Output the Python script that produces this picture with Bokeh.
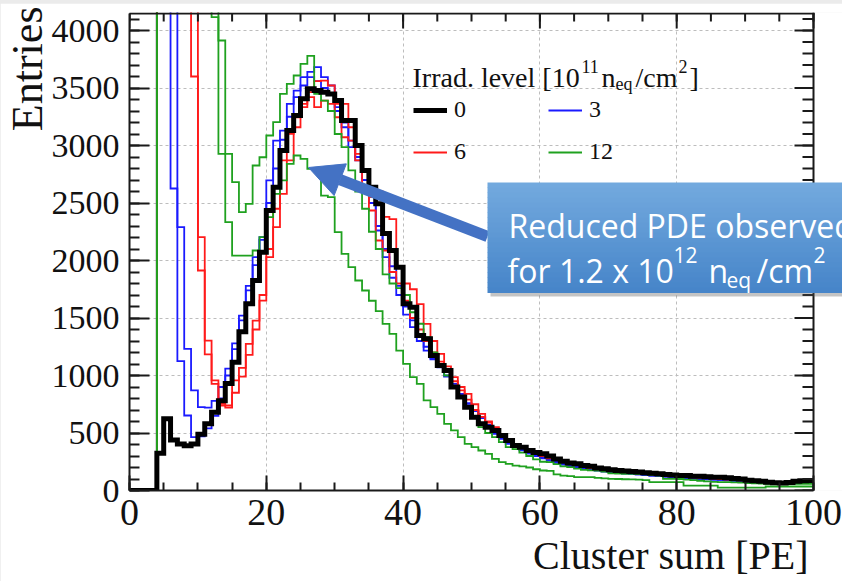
import math
from bokeh.plotting import figure
from bokeh.models import (ColumnDataSource, FixedTicker, Label, BoxAnnotation, Title,
                          Arrow, NormalHead, Legend, LegendItem, Range1d)
from bokeh.layouts import column
from bokeh.embed import file_html
from bokeh.resources import INLINE

# ---------------- data (bin contents, 1 PE bins from 0 to 100) ----------------
BIN_LO = 0
BIN_WIDTH = 1

black = [0, 0, 0, 0, 324, 625, 440, 405, 390, 405,
         490, 580, 680, 780, 930, 1115, 1380, 1625, 1826, 2072,
         2435, 2638, 2957, 3130, 3261, 3406, 3493, 3478, 3464, 3449,
         3391, 3217, 3217, 3000, 2783, 2638, 2493, 2235, 2087, 1942,
         1623, 1594, 1348, 1319, 1174, 1087, 1043, 899, 812, 725,
         638, 580, 551, 522, 478, 435, 391, 377, 348, 330,
         320, 300, 275, 255, 240, 232, 217, 210, 195, 190,
         180, 175, 170, 165, 160, 155, 150, 145, 140, 135,
         130, 130, 125, 125, 120, 116, 116, 110, 105, 100,
         90, 85, 80, 72, 68, 65, 70, 80, 85, 87]

blue_a = [0, 0, 0, 0, 4500, 4500, 4500, 1125, 652, 464,
          470, 540, 650, 800, 1000, 1230, 1480, 1740, 2029, 2203,
          2696, 3043, 3130, 3362, 3478, 3594, 3640, 3681, 3594, 3522,
          3333, 3159, 2986, 2870, 2783, 2580, 2261, 2029, 1850, 1700,
          1530, 1420, 1300, 1217, 1140, 1072, 1000, 928, 840, 754,
          690, 638, 560, 493, 450, 406, 380, 350, 320, 300,
          280, 260, 240, 225, 210, 200, 190, 180, 172, 165,
          160, 155, 150, 145, 140, 135, 130, 125, 120, 116,
          112, 110, 105, 100, 100, 95, 92, 90, 85, 80,
          78, 75, 72, 70, 65, 62, 60, 62, 65, 68]

blue_b = [0, 0, 0, 0, 4500, 4500, 2626, 2290, 1232, 870,
          725, 720, 780, 900, 1060, 1280, 1520, 1780, 1960, 2180,
          2500, 2800, 3050, 3250, 3420, 3522, 3594, 3560, 3500, 3440,
          3300, 3200, 3043, 2900, 2700, 2500, 2300, 2100, 1950, 1780,
          1600, 1480, 1350, 1250, 1150, 1080, 990, 900, 830, 760,
          690, 630, 570, 510, 460, 420, 390, 360, 335, 310,
          290, 270, 250, 235, 220, 210, 200, 190, 180, 170,
          165, 158, 150, 145, 140, 135, 130, 125, 120, 115,
          110, 108, 104, 100, 98, 95, 92, 88, 85, 82,
          80, 76, 72, 70, 66, 62, 62, 65, 68, 70]

red_a = [0, 0, 0, 0, 4500, 4500, 4500, 4500, 4500, 3600,
         1913, 1183, 928, 739, 720, 850, 990, 1180, 1400, 1700,
         2100, 2450, 2870, 3101, 3246, 3362, 3464, 3560, 3565, 3522,
         3362, 3362, 3159, 2928, 2638, 2551, 2600, 2380, 2360, 1950,
         1800, 1750, 1620, 1449, 1300, 1188, 1080, 986, 900, 840,
         750, 667, 600, 551, 490, 435, 400, 377, 355, 335,
         320, 300, 280, 262, 245, 230, 215, 205, 195, 185,
         178, 170, 165, 160, 155, 150, 145, 140, 135, 130,
         125, 122, 118, 115, 110, 106, 102, 98, 94, 90,
         86, 82, 78, 74, 70, 68, 66, 68, 70, 72]

red_b = [0, 0, 0, 0, 4500, 4500, 4500, 4500, 4500, 4500,
         2203, 1304, 957, 754, 739, 957, 1067, 1275, 1478, 1652,
         2029, 2290, 2580, 2870, 3159, 3333, 3420, 3333, 3391, 3362,
         3246, 3072, 3043, 2870, 2783, 2435, 2174, 2087, 1900, 1800,
         1650, 1500, 1400, 1300, 1200, 1120, 1050, 950, 870, 790,
         700, 640, 590, 540, 480, 440, 400, 380, 350, 330,
         300, 280, 265, 250, 235, 220, 205, 195, 185, 178,
         170, 165, 160, 155, 150, 145, 140, 135, 130, 126,
         122, 118, 115, 112, 108, 105, 100, 96, 92, 88,
         85, 80, 76, 72, 70, 68, 66, 66, 68, 70]

green_a = [0, 0, 0, 0, 4500, 4500, 4500, 4500, 4500, 4500,
           4500, 4500, 4116, 3913, 2928, 2681, 2420, 2493, 2826, 2898,
           3087, 3203, 3449, 3536, 3609, 3710, 3780, 3449, 3391, 3300,
           3100, 2986, 2783, 2600, 2450, 2250, 2100, 1880, 1800, 1760,
           1700, 1550, 1450, 1333, 1200, 1101, 1000, 899, 810, 725,
           640, 551, 500, 464, 420, 377, 360, 330, 300, 270,
           250, 246, 230, 210, 203, 190, 180, 175, 174, 165,
           150, 148, 145, 145, 143, 140, 135, 130, 101, 101,
           100, 95, 90, 85, 80, 75, 72, 72, 70, 68,
           65, 62, 60, 58, 58, 58, 58, 58, 58, 58]

green_b = [0, 0, 0, 0, 4500, 4500, 4500, 4500, 4500, 4500,
           4500, 4500, 4500, 2928, 2333, 2043, 2043, 2043, 2087, 2203,
           2377, 2580, 2696, 2841, 2913, 2884, 2797, 2797, 2565, 2551,
           2246, 2058, 1942, 1826, 1739, 1650, 1560, 1449, 1362, 1217,
           1101, 986, 928, 783, 725, 667, 580, 522, 464, 406,
           377, 348, 319, 275, 246, 232, 217, 210, 200, 185,
           174, 170, 140, 130, 125, 116, 116, 116, 110, 105,
           101, 100, 98, 96, 94, 90, 72, 72, 72, 72,
           72, 43, 43, 43, 43, 43, 25, 25, 25, 25,
           25, 25, 25, 35, 35, 35, 35, 35, 35, 35]

x_major = [0, 20, 40, 60, 80, 100]
x_minor = list(range(0, 101, 5))
y_major = list(range(0, 4001, 500))
y_minor = list(range(0, 4101, 100))
legend_labels = ["0", "3", "6", "12"]

# ---------------- geometry ----------------
X0, X1 = 0, 100          # histogram axis range
Y0, Y1 = 0, 4148         # axis box top
FL, FR, FB = 129, 813, 490     # axis box edges in page pixels (left, right, bottom)
FT = 13
OFFX, OFFY = 0, 3
W, H = 842 - OFFX, 581 - OFFY
SX = (FR - FL) / (X1 - X0)       # px per PE
SY = (FB - FT) / (Y1 - Y0)       # px per entry
XR = X1 + (842 - FR) / SX        # frame reaches page right edge
YR = Y1 + (FT - 12) / SY         # frame top at page y=12


def dx(px):
    return X0 + (px - FL) / SX


def dy(py):
    return Y0 + (FB - py) / SY


def steps(vals):
    xs, ys = [], []
    for k, v in enumerate(vals):
        lo = BIN_LO + k * BIN_WIDTH
        xs += [lo, lo + BIN_WIDTH]
        ys += [v, v]
    return ColumnDataSource(dict(x=xs, y=ys))


p = figure(width=W, height=H, x_range=Range1d(X0, XR), y_range=Range1d(Y0, YR),
           output_backend="svg", toolbar_location=None,
           min_border_left=FL - OFFX, min_border_right=0,
           min_border_top=12 - OFFY, min_border_bottom=581 - FB)
p.margin = (OFFY, 0, 0, OFFX)
p.background_fill_color = "white"
p.border_fill_color = "white"
p.outline_line_color = None

AX = "#1a1a1a"
SERIF_FONT = "Liberation Serif"


def style_axis(ax, major_in, minor_in, size):
    ax.axis_line_width = 2
    ax.axis_line_color = AX
    ax.major_tick_line_width = 2
    ax.minor_tick_line_width = 2
    ax.major_tick_line_color = AX
    ax.minor_tick_line_color = AX
    ax.major_tick_in = major_in
    ax.major_tick_out = 0
    ax.minor_tick_in = minor_in
    ax.minor_tick_out = 0
    ax.major_label_text_font = SERIF_FONT
    ax.major_label_text_font_size = size
    ax.major_label_text_color = "#111111"


xt = FixedTicker(ticks=x_major, minor_ticks=x_minor)
yt = FixedTicker(ticks=y_major, minor_ticks=y_minor)
p.xaxis.ticker = xt
p.yaxis.ticker = yt
style_axis(p.xaxis[0], 15, 8, "38px")
style_axis(p.yaxis[0], 20, 10, "34px")
p.xaxis.major_label_standoff = 9
p.yaxis.major_label_standoff = 10
p.xaxis.bounds = (X0, X1)
p.yaxis.bounds = (Y0, Y1)

p.xgrid.ticker = FixedTicker(ticks=x_major[1:-1])
p.ygrid.ticker = FixedTicker(ticks=y_major[1:])
for g in (p.xgrid, p.ygrid):
    g.grid_line_color = "#bdbdbd"
    g.grid_line_dash = "3 3"
    g.grid_line_width = 1
# area right of the axis box stays white
p.add_layout(BoxAnnotation(left=X1, fill_color="white", fill_alpha=1, line_color=None,
                           level="underlay"))

RED, BLUE, GREEN = "#ff1a1a", "#1a1aff", "#1fa11f"
LW = 1.8
r_blue_b = p.line("x", "y", source=steps(blue_b), color=BLUE, line_width=LW, line_join="miter")
r_blue_a = p.line("x", "y", source=steps(blue_a), color=BLUE, line_width=LW, line_join="miter")
r_red_b = p.line("x", "y", source=steps(red_b), color=RED, line_width=LW, line_join="miter")
r_red_a = p.line("x", "y", source=steps(red_a), color=RED, line_width=LW, line_join="miter")
r_green_b = p.line("x", "y", source=steps(green_b), color=GREEN, line_width=LW, line_join="miter")
r_green_a = p.line("x", "y", source=steps(green_a), color=GREEN, line_width=LW, line_join="miter")
r_black = p.line("x", "y", source=steps(black), color="black", line_width=5, line_join="miter")

# top and right sides of the axis box, with inward ticks
p.segment(x0=[X0, X1], y0=[Y1, Y0], x1=[X1, X1], y1=[Y1, Y1], line_color=AX, line_width=2,
          line_cap="square")
p.segment(x0=x_major, y0=[Y1 - 15 / SY] * len(x_major), x1=x_major, y1=[Y1] * len(x_major),
          line_color=AX, line_width=2)
p.segment(x0=x_minor, y0=[Y1 - 8 / SY] * len(x_minor), x1=x_minor, y1=[Y1] * len(x_minor),
          line_color=AX, line_width=2)
p.segment(x0=[X1 - 19 / SX] * len(y_major), y0=y_major, x1=[X1] * len(y_major), y1=y_major,
          line_color=AX, line_width=2)
p.segment(x0=[X1 - 11 / SX] * len(y_minor), y0=y_minor, x1=[X1] * len(y_minor), y1=y_minor,
          line_color=AX, line_width=2)

# ---------------- legend ----------------
for lab, rend, (px, py) in zip(legend_labels, [r_black, r_blue_a, r_red_a, r_green_a],
                               [(413, 110), (548, 110), (413, 152), (548, 152)]):
    lg = Legend(items=[LegendItem(label=lab, renderers=[rend])],
                location=(px - FL, FB - py - 13), padding=0, margin=0, spacing=0,
                border_line_color=None, background_fill_alpha=0,
                glyph_width=34, glyph_height=26, label_standoff=7,
                label_text_font=SERIF_FONT, label_text_font_size="24px",
                label_text_color="#111111", label_height=26)
    p.add_layout(lg)

SERIF = dict(text_font=SERIF_FONT, text_color="#111111", text_baseline="alphabetic")
title_parts = [("Irrad. level [10", 412, 77, "28px"), ("11", 581, 66, "18px"),
               ("n", 601, 77, "28px"), ("eq", 615, 83, "18px"), ("/cm", 635, 77, "28px"),
               ("2", 678, 66, "18px"), ("]", 689, 77, "28px")]
for t, px, py, fs in title_parts:
    p.add_layout(Label(x=dx(px), y=dy(py), text=t, text_font_size=fs, **SERIF))

# ---------------- axis titles ----------------
p.add_layout(Title(text="Cluster sum [PE]", align="right", offset=842 - 808,
                   standoff=6, text_font=SERIF_FONT, text_font_size="40px",
                   text_font_style="normal", text_color="#111111"), "below")
p.add_layout(Title(text="Entries", align="right", offset=-6, standoff=-7,
                   text_font=SERIF_FONT, text_font_size="44px",
                   text_font_style="normal", text_color="#111111"), "left")

# ---------------- arrow and callout ----------------
ARROW = "#4472c4"
p.add_layout(Arrow(x_start=dx(487), y_start=dy(236), x_end=dx(308), y_end=dy(167),
                   line_width=11, line_color=ARROW,
                   end=NormalHead(size=34, fill_color=ARROW, line_color=ARROW, line_width=1)))

BX0, BY0, BY1 = 487, 182, 292
p.add_layout(BoxAnnotation(left=dx(BX0 + 3), top=dy(BY0 + 4), bottom=dy(BY1 + 4),
                           fill_color="#555555", fill_alpha=0.35, line_color=None))
top_rgb, bot_rgb = (0x72, 0xa9, 0xde), (0x47, 0x85, 0xc9)
NB = 22
for i in range(NB):
    f = i / (NB - 1)
    c = tuple(int(round(top_rgb[j] + (bot_rgb[j] - top_rgb[j]) * f)) for j in range(3))
    y_a = BY0 + (BY1 - BY0) * i / NB
    y_b = BY0 + (BY1 - BY0) * (i + 1) / NB
    p.add_layout(BoxAnnotation(left=dx(BX0), top=dy(y_a), bottom=dy(y_b + 0.6),
                               fill_color="#%02x%02x%02x" % c, fill_alpha=1, line_color=None))

SANS = dict(text_font="Open Sans", text_color="white", text_baseline="alphabetic")
box_parts = [("Reduced PDE observed", 508, 225, "32px"),
             ("for 1.2 x 10", 507, 270, "32px"), ("12", 673, 254, "21px"),
             ("n", 708, 270, "32px"), ("eq", 726, 279, "21px"), ("/cm", 756, 270, "32px"),
             ("2", 813, 254, "21px")]
for t, px, py, fs in box_parts:
    p.add_layout(Label(x=dx(px), y=dy(py), text=t, text_font_size=fs, **SANS))

layout = column(p, styles={"background-color": "#ebebeb"})
open("out.html", "w").write(file_html(layout, INLINE))
